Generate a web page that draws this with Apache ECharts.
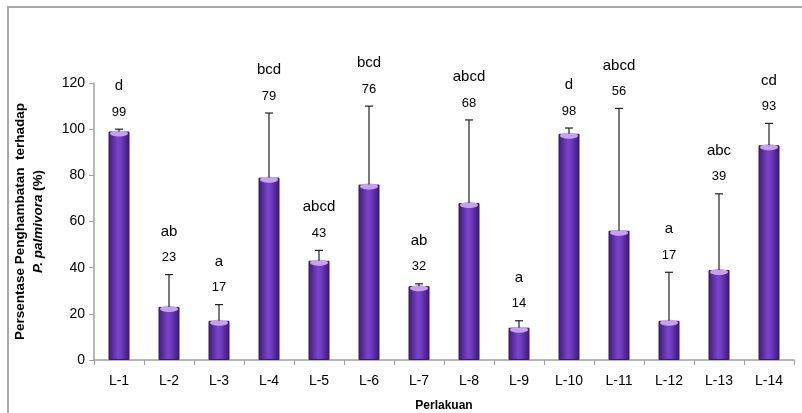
<!DOCTYPE html>
<html>
<head>
<meta charset="utf-8">
<script src="https://cdn.jsdelivr.net/npm/echarts@6/dist/echarts.min.js"></script>
<style>
html,body{margin:0;padding:0;background:#fff;}
#frame{position:absolute;left:7px;top:6px;width:820px;height:430px;border-left:2px solid #a8a8a8;border-top:2px solid #a8a8a8;}
#main{position:absolute;left:0;top:0;width:802px;height:413px;}
</style>
</head>
<body>
<div id="frame"></div>
<div id="main"></div>
<script>
var categories=['L-1','L-2','L-3','L-4','L-5','L-6','L-7','L-8','L-9','L-10','L-11','L-12','L-13','L-14'];
var values=[99,23,17,79,43,76,32,68,14,98,56,17,39,93];
var errTop=[100,37,24,107,47.5,110,33,104,17,100.5,109,38,72,102.5];
var letters=['d','ab','a','bcd','abcd','bcd','ab','abcd','a','d','abcd','a','abc','cd'];
var yTicks=[0,20,40,60,80,100,120];

var font='"Liberation Sans", Arial, sans-serif';
var errData=[];
for(var i=0;i<categories.length;i++){
	errData.push([i,values[i],errTop[i]]);
}

// error bar + cap highlight + value and letter labels
function renderErr(params,api){
	var i=api.value(0);
	var base=api.coord([i,api.value(1)]);
	var top=api.coord([i,api.value(2)]);
	var x=base[0];
	return {type:'group',children:[
		{type:'ellipse',shape:{cx:x,cy:base[1]+2,rx:9,ry:3},style:{fill:'#c7a0f2'}},
		{type:'line',shape:{x1:x,y1:base[1],x2:x,y2:top[1]},style:{stroke:'#222',lineWidth:1.2}},
		{type:'line',shape:{x1:x-4,y1:top[1],x2:x+4,y2:top[1]},style:{stroke:'#222',lineWidth:1.2}},
		{type:'text',style:{text:String(values[i]),x:x,y:top[1]-17,align:'center',verticalAlign:'middle',font:'13px '+font,fill:'#000'}},
		{type:'text',style:{text:letters[i],x:x,y:top[1]-43,align:'center',verticalAlign:'middle',font:'15px '+font,fill:'#000'}}
	]};
}

var myChart=echarts.init(document.getElementById('main'));
var option={
	animation:false,
	grid:{left:94,right:8,top:83,bottom:53,containLabel:false,outerBoundsMode:'none'},
	xAxis:{
		type:'category',
		data:categories,
		name:'Perlakuan',
		nameLocation:'middle',
		nameGap:40,
		nameTextStyle:{fontFamily:font,fontWeight:'bold',fontSize:12,color:'#000'},
		axisLine:{lineStyle:{color:'#a0a0a0',width:1.5}},
		axisTick:{show:true,length:5,lineStyle:{color:'#a0a0a0'}},
		axisLabel:{interval:0,margin:14,fontFamily:font,fontSize:14,color:'#000'}
	},
	yAxis:{
		type:'value',
		min:yTicks[0],
		max:yTicks[yTicks.length-1],
		interval:20,
		name:'{b|Persentase Penghambatan  terhadap}\n{i|P. palmivora} {b|(%)}',
		nameLocation:'middle',
		nameGap:47,
		nameTextStyle:{
			rich:{
				b:{fontFamily:font,fontWeight:'bold',fontSize:13.5,color:'#000',lineHeight:18},
				i:{fontFamily:font,fontWeight:'bold',fontStyle:'italic',fontSize:13.5,color:'#000',lineHeight:18}
			}
		},
		splitLine:{show:false},
		axisLine:{show:true,lineStyle:{color:'#a0a0a0',width:1.5}},
		axisTick:{show:true,length:5,lineStyle:{color:'#a0a0a0'}},
		axisLabel:{margin:9,fontFamily:font,fontSize:14,color:'#000'}
	},
	series:[
		{
			type:'bar',
			data:values,
			barWidth:21,
			itemStyle:{
				color:new echarts.graphic.LinearGradient(0,0,1,0,[
					{offset:0,color:'#3e1a78'},
					{offset:0.45,color:'#7a44cc'},
					{offset:0.6,color:'#6f3cc0'},
					{offset:1,color:'#3a176f'}
				]),
				borderColor:'#3a1a66',
				borderWidth:1
			}
		},
		{
			type:'custom',
			renderItem:renderErr,
			data:errData,
			z:5
		}
	]
};
myChart.setOption(option);
</script>
</body>
</html>
